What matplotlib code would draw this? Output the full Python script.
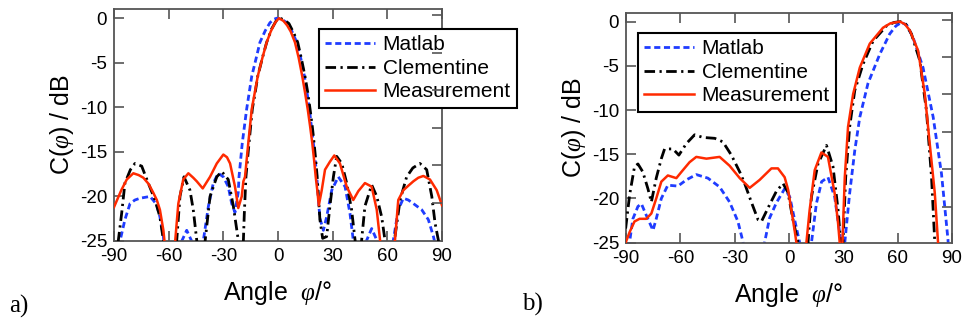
import matplotlib
matplotlib.use("Agg")
import matplotlib.pyplot as plt
import numpy as np

plt.rcParams['font.family'] = ['Liberation Sans', 'DejaVu Sans']
plt.rcParams['mathtext.fontset'] = 'custom'
plt.rcParams['mathtext.it'] = 'Liberation Serif:italic'
plt.rcParams['mathtext.rm'] = 'Liberation Sans'

# ---------------- Panel a) data ----------------
a_meas_x = [-90, -86, -83, -79.4, -76.5, -73.9, -71, -68.4, -66.5, -64.8, -62.9, -62.2, -60, -58, -56.5, -54.7, -52, -49.2,
            -46.5, -44.6, -41.3, -37.3, -33.6, -30, -28, -26.3, -23.6, -21.8, -19.9, -19, -18.1, -16.3, -14.4, -11.1,
            -8.5, -6.2, -4, -1.6, 0.5, 3, 5, 7, 9.3, 11.3, 13.3, 14.8, 16.3, 17.6, 18.8, 19.8, 20.7, 21.5, 22.4, 24,
            25.8, 28.5, 30.9, 34, 37.7, 41.3, 44.1, 47.7, 51.4, 54.2, 56, 57, 60, 63, 64.2, 66, 68.8, 71.5, 74.3, 77,
            79.8, 83.4, 87.1, 90]
a_meas_y = [-21.2, -19.3, -18.1, -17.4, -17.6, -17.9, -18.6, -19.6, -20.4, -21.5, -23.8, -25.2, -30, -30, -25.2, -20.8, -18.1,
            -17.4, -17.9, -18.3, -19.1, -17.8, -16.3, -15.3, -15.6, -16.3, -18.9, -21.3, -20.0, -18.3, -17.8, -14.0,
            -10.2, -6.5, -4.4, -2.7, -1.5, -0.5, 0, -0.3, -0.8, -1.5, -2.7, -4.4, -6.5, -8.3, -10.2, -12.1, -14.0,
            -15.9, -17.8, -19.2, -21.0, -19.3, -17.0, -16.1, -15.4, -16.3, -18.9, -20.4, -19.4, -18.5, -18.9, -21.5,
            -24.9, -28, -30, -28, -24.9, -20.4, -19.3, -18.8, -18.3, -17.9, -17.7, -18.1, -19.3, -21.0]

a_clem_x = [-90, -87.6, -85.8, -84, -81, -78.5, -74.8, -71.2, -67.5, -64.8, -62.9, -61, -58, -55.6, -53.8, -51.6, -48.3,
            -46.5, -44.6, -42.5, -40, -37.3, -33.6, -30.9, -27.3, -24.5, -21.8, -20.5, -19, -18.5, -17.6, -15.9, -14.1,
            -12.5, -11.1, -8.5, -6.2, -3.5, -1, 1.1, 3.5, 6, 8.5, 10.8, 12.8, 14.8, 16.3, 17.6, 18.8, 19.8, 20.7, 21.5,
            23, 24.5, 26.7, 28.5, 30.4, 32.2, 35, 37.7, 40.4, 42.3, 44, 45.9, 47.7, 51.4, 54.2, 56.9, 58.7, 61.5, 64.2,
            67, 70.6, 74, 77.9, 81.6, 84.4, 86.2, 88, 90]
a_clem_y = [-30, -24.9, -21.9, -18.5, -17.0, -16.3, -16.6, -18.5, -20.4, -22.3, -24.9, -30, -30, -25.0, -20.0, -17.8, -19.3,
            -21.5, -24.9, -30, -25.0, -20.0, -17.8, -17.2, -18.1, -21.1, -24.9, -30, -25.0, -22.0, -17.8, -14.0, -10.2,
            -8.3, -6.5, -4.4, -2.7, -1.2, -0.3, 0, -0.2, -0.6, -1.6, -2.7, -4.5, -6.5, -8.3, -10.2, -12.1, -14.0, -15.9,
            -17.8, -22.6, -24.7, -24.5, -21.1, -17.8, -15.5, -16.3, -18.5, -21.5, -24.9, -30, -24.9, -21.1, -18.7,
            -20.0, -22.3, -24.9, -30, -24.5, -20.4, -17.8, -16.8, -16.3, -17.0, -20.0, -23.0, -24.9, -30]

a_mat_x = [-90, -86.7, -84, -81.2, -78.5, -75.7, -70.2, -66.6, -64.8, -62.9, -61, -55, -52.8, -50.1, -47.4, -44, -41,
           -38.2, -35.5, -32.8, -30, -27.3, -25.4, -23.6, -21.8, -21.4, -19.6, -17.2, -14.4, -12, -9.9, -7, -4.4,
           -2, -0.7, 2, 4.8, 7.5, 10.3, 12.5, 14.5, 15.9, 17.2, 18.3, 19.4, 20.4, 21.3, 22.4, 23.2, 24.9, 26.7, 29.5,
           33.1, 36.8, 39.5, 41.3, 45, 48.7, 51.4, 54.2, 58, 63.3, 66, 68.8, 71.5, 74.3, 78.9, 82.5, 85.3, 87, 90]
a_mat_y = [-30, -25.0, -22.6, -20.8, -20.4, -20.2, -20.0, -20.9, -22.3, -24.5, -30, -30, -25.0, -23.8, -25.0, -30, -25.0,
           -21.1, -18.5, -17.4, -17.8, -18.9, -20.8, -21.8, -19.5, -17.8, -14.0, -10.2, -6.5, -4.5, -2.7, -1.4, -0.5,
           -0.1, 0, -0.1, -0.5, -1.4, -2.7, -4.5, -6.5, -8.3, -10.2, -12.1, -14.0, -15.9, -17.8, -21.1, -22.6, -23.8,
           -22.3, -19.3, -17.8, -18.9, -21.9, -24.9, -30, -24.9, -23.6, -24.9, -30, -24.9, -21.5, -20.2, -20.4, -20.8,
           -21.5, -22.6, -24.5, -26, -30]

# ---------------- Panel b) data ----------------
b_meas_x = [-90.2, -88, -85.3, -82.5, -78.8, -76, -73.3, -70.5, -66.9, -62.2, -59.4, -54.9, -51.2, -45.6, -38.3, -32.8,
            -27.2, -21.7, -16.2, -9.7, -6.1, -2.4, -0.5, 1.3, 3.1, 4.1, 6, 8, 9.6, 11.4, 14.2, 17.9, 21.5, 25.2, 27.1,
            28, 28.8, 29.5, 30.8, 32.6, 35.4, 39.1, 44.6, 51.9, 56, 61.2, 64, 66.7, 71.3, 75, 77.7, 80.5, 82.3, 84, 90]
b_meas_y = [-25, -23.8, -22.6, -22.3, -22.3, -21.7, -20.0, -18.1, -17.4, -17.7, -17.0, -15.9, -15.3, -15.5, -15.3, -16.3,
            -17.7, -18.8, -17.9, -16.6, -16.6, -17.6, -19.0, -21.3, -23.6, -25.0, -30, -30, -25.0, -21.3, -16.8, -14.8,
            -15.3, -19.4, -22.8, -25.0, -30, -25.0, -17.6, -11.9, -8.2, -5.2, -2.5, -0.7, -0.2, 0, -0.3, -1.0, -3.3,
            -8.2, -13.8, -19.4, -25.0, -30, -30]

b_clem_x = [-90.2, -88, -85.3, -83.4, -80.7, -77.9, -76, -73.3, -70.5, -68.7, -64.1, -60.8, -56.7, -52.1, -47.5, -41,
            -36.5, -31.8, -27.2, -24.5, -20.8, -17.1, -15.2, -10.7, -7, -3.3, -0.6, 2.2, 5, 7, 9, 10.5, 12.4, 16, 20.7,
            24.3, 27.1, 28.6, 29.2, 29.8, 31.3, 33.5, 36.3, 40.9, 46.4, 53.8, 58, 62.1, 64.5, 67.6, 72.2, 75.9, 78.7,
            80.5, 82, 90]
b_clem_y = [-23.4, -19.6, -16.4, -16.1, -17.0, -18.9, -20.4, -17.7, -15.5, -14.4, -14.4, -15.1, -13.8, -12.8, -13.1, -13.2,
            -13.6, -15.1, -17.0, -18.3, -20.4, -22.4, -22.6, -20.7, -19.2, -18.3, -19.3, -22.4, -25.0, -30, -30, -25.0,
            -19.8, -16.1, -14.0, -16.4, -21.3, -25.0, -30, -25.0, -17.6, -11.9, -7.8, -4.8, -2.2, -0.5, -0.1, 0, -0.3,
            -1.4, -4.4, -10.1, -17.6, -25.0, -30, -30]

b_mat_x = [-90, -88, -86.2, -83.4, -81.5, -78.8, -75.1, -73.3, -70.5, -66.9, -61.3, -56.7, -51.2, -44.8, -38.3, -32.8,
           -28.2, -25.4, -23, -16, -13.4, -10.7, -7, -2.4, 0.4, 3.1, 5.9, 8, 10, 12.4, 15.1, 18, 21.5, 25.2, 28, 28.9,
           29.8, 30.8, 33.5, 36.3, 39.1, 43.6, 50.1, 55.6, 59, 62.1, 65, 68.5, 74, 79.6, 84.2, 87.8, 89, 90]
b_mat_y = [-30, -24.9, -22.3, -20.9, -20.6, -21.9, -23.6, -22.3, -20.0, -18.5, -18.6, -17.9, -17.3, -17.7, -18.7, -20.4,
           -22.6, -24.9, -30, -30, -24.9, -22.2, -20.5, -18.9, -19.8, -22.4, -25.0, -30, -30, -25.0, -20.6, -18.1,
           -17.6, -19.8, -23.9, -25.0, -30, -25.0, -19.4, -14.6, -10.8, -7.0, -3.7, -1.4, -0.5, -0.1, -0.4, -1.8,
           -5.2, -10.8, -17.2, -24.7, -30, -30]

series_names = ["Matlab", "Clementine", "Measurement"]
x_ticks = [-90, -60, -30, 0, 30, 60, 90]
y_ticks = [0, -5, -10, -15, -20, -25]
y_ticklabels = ["0", "-5", "-10", "-15", "-20", "-25"]
x_ticklabels = ["-90", "-60", "-30", "0", "30", "60", "90"]

BLUE = '#1f3cff'
BLACK = '#000000'
RED = '#ff2a00'
SPINE = '#555555'

fig = plt.figure(figsize=(9.63, 3.22), dpi=100)

def make_panel(rect, mat, clem, meas, right_fracs, leg_anchor):
    ax = fig.add_axes(rect)
    ax.plot(mat[0], mat[1], color=BLUE, lw=2.0, dashes=(2.2, 1.3), label=series_names[0], zorder=2)
    ax.plot(clem[0], clem[1], color=BLACK, lw=2.0, dashes=(3.8, 1.6, 0.8, 1.6), label=series_names[1], zorder=3)
    ax.plot(meas[0], meas[1], color=RED, lw=1.8, label=series_names[2], zorder=4)
    ax.set_xlim(-90, 90)
    ax.set_ylim(-25, 1.0)
    ax.set_xticks(x_ticks)
    ax.set_xticklabels(x_ticklabels)
    ax.set_yticks(y_ticks)
    ax.set_yticklabels(y_ticklabels)
    ax.tick_params(axis='both', direction='in', length=7, width=1.2, color=SPINE, labelsize=13.5,
                   top=True, right=False, pad=5)
    for s in ax.spines.values():
        s.set_color(SPINE)
        s.set_linewidth(1.3)
    ax.set_xlabel(r"Angle  $\varphi$/°", fontsize=18, labelpad=10)
    ax.set_ylabel(r"C($\varphi$) / dB", fontsize=18, labelpad=3)
    ax2 = ax.twinx()
    ax2.set_ylim(0, 1)
    ax2.set_yticks(right_fracs)
    ax2.set_yticklabels([])
    ax2.tick_params(axis='y', direction='in', length=7, width=1.2, color=SPINE)
    for s in ax2.spines.values():
        s.set_visible(False)
    leg = ax.legend(loc='upper left', bbox_to_anchor=leg_anchor, bbox_transform=fig.transFigure,
                    fontsize=15, frameon=True, fancybox=False, framealpha=1, edgecolor='black',
                    handlelength=2.4, handletextpad=0.35, labelspacing=0.22, borderpad=0.3,
                    borderaxespad=0)
    leg.get_frame().set_linewidth(1.5)
    leg.set_zorder(10)
    return ax

make_panel([114/963, 1-241/322, 328/963, 231.7/322], (a_mat_x, a_mat_y), (a_clem_x, a_clem_y), (a_meas_x, a_meas_y),
           [0.164, 0.326, 0.488, 0.651, 0.813, 0.975], (319/963, 1-29/322))
make_panel([626/963, 1-242.7/322, 326/963, 230/322], (b_mat_x, b_mat_y), (b_clem_x, b_clem_y), (b_meas_x, b_meas_y),
           [0.155, 0.320, 0.481, 0.647, 0.807, 0.968], (638/963, 1-33/322))

fig.text(9/963, 1-313/322, "a)", fontsize=18, family='Liberation Serif', va='baseline', ha='left')
fig.text(522/963, 1-311/322, "b)", fontsize=18, family='Liberation Serif', va='baseline', ha='left')

fig.savefig("out.png", dpi=100)
